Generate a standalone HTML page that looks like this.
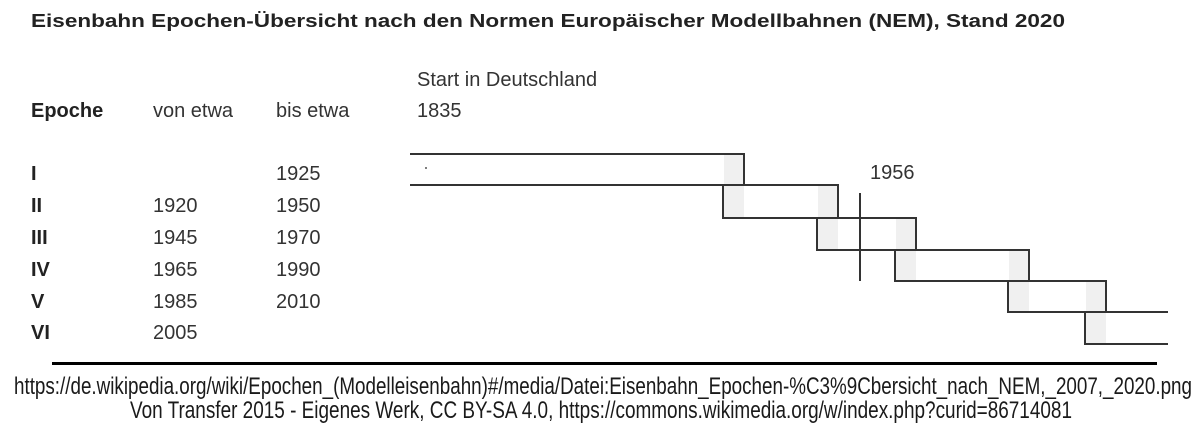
<!DOCTYPE html>
<html><head><meta charset="utf-8"><style>
html,body{margin:0;padding:0;background:#fff;}
svg{display:block;}
</style></head><body>
<svg width="1204" height="438" viewBox="0 0 1204 438" xmlns="http://www.w3.org/2000/svg">
<rect width="1204" height="438" fill="#fff"/>
<g font-family="Liberation Sans, Arial, sans-serif" fill="#222">
<text x="31" y="27" font-size="18" font-weight="bold" textLength="1034" lengthAdjust="spacingAndGlyphs">Eisenbahn Epochen-Übersicht nach den Normen Europäischer Modellbahnen (NEM), Stand 2020</text>
<text x="417" y="86" font-size="20" fill="#333">Start in Deutschland</text>
<text x="417" y="117" font-size="20" fill="#333">1835</text>
<text x="31" y="117" font-size="20" font-weight="bold">Epoche</text>
<text x="153" y="117" font-size="20" fill="#333">von etwa</text>
<text x="276" y="117" font-size="20" fill="#333">bis etwa</text>
<g font-size="20" fill="#333">
<text x="31" y="180" font-weight="bold" fill="#222">I</text><text x="276" y="180">1925</text>
<text x="31" y="212" font-weight="bold" fill="#222">II</text><text x="153" y="212">1920</text><text x="276" y="212">1950</text>
<text x="31" y="244" font-weight="bold" fill="#222">III</text><text x="153" y="244">1945</text><text x="276" y="244">1970</text>
<text x="31" y="276" font-weight="bold" fill="#222">IV</text><text x="153" y="276">1965</text><text x="276" y="276">1990</text>
<text x="31" y="308" font-weight="bold" fill="#222">V</text><text x="153" y="308">1985</text><text x="276" y="308">2010</text>
<text x="31" y="339" font-weight="bold" fill="#222">VI</text><text x="153" y="339">2005</text>
<text x="870" y="179">1956</text>
</g>
</g>
<g fill="#f0f0f0">
<rect x="724" y="154" width="20" height="64"/>
<rect x="818" y="185" width="20" height="65"/>
<rect x="896" y="218" width="20" height="63"/>
<rect x="1009" y="250" width="20" height="62"/>
<rect x="1086" y="281" width="20" height="63"/>
</g>
<g fill="none" stroke="#333" stroke-width="2">
<path d="M410 154H744V185H410"/>
<path d="M744 185H838V218H723V185"/>
<path d="M838 218H916V250H817V218"/>
<path d="M916 250H1029V281H895V250"/>
<path d="M1029 281H1106V312H1008V281"/>
<path d="M1106 312H1168M1085 312V344H1168"/>
<path d="M860 193V281"/>
</g>
<circle cx="426" cy="168" r="1" fill="#555"/>
<rect x="52" y="362" width="1105" height="3" fill="#000"/>
<g font-family="Liberation Sans, Arial, sans-serif" font-size="24" fill="#1a1a1a" text-anchor="middle">
<text x="603" y="394" textLength="1178" lengthAdjust="spacingAndGlyphs">https://de.wikipedia.org/wiki/Epochen_(Modelleisenbahn)#/media/Datei:Eisenbahn_Epochen-%C3%9Cbersicht_nach_NEM,_2007,_2020.png</text>
<text x="601" y="418" textLength="942" lengthAdjust="spacingAndGlyphs">Von Transfer 2015 - Eigenes Werk, CC BY-SA 4.0, https://commons.wikimedia.org/w/index.php?curid=86714081</text>
</g>
</svg>
</body></html>
